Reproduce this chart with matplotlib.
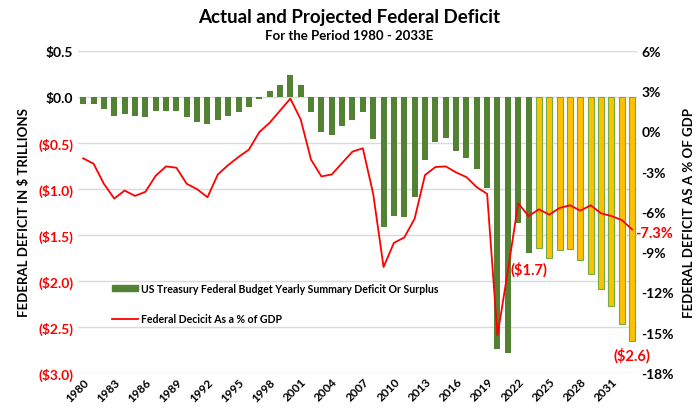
import numpy as np
import matplotlib.pyplot as plt
from matplotlib.patches import Patch
from matplotlib.lines import Line2D

plt.rcParams['font.family'] = ['Lato', 'DejaVu Sans']
plt.rcParams['font.weight'] = 'bold'
plt.rcParams['axes.labelweight'] = 'bold'

years = list(range(1980, 2034))
# deficit in $ trillions (actual through 2023, projected 2024-2033)
deficit = [-0.074, -0.079, -0.128, -0.208, -0.185, -0.212, -0.221, -0.150, -0.155, -0.153,
           -0.221, -0.269, -0.290, -0.255, -0.203, -0.164, -0.107, -0.022, 0.069, 0.126,
           0.236, 0.128, -0.158, -0.378, -0.413, -0.318, -0.248, -0.161, -0.459, -1.413,
           -1.294, -1.300, -1.087, -0.680, -0.485, -0.442, -0.585, -0.665, -0.779, -0.984,
           -2.74, -2.78, -1.375, -1.70,
           -1.64, -1.75, -1.66, -1.65, -1.77, -1.92, -2.09, -2.27, -2.47, -2.65]
pct_gdp = [-2.0, -2.4, -3.9, -5.0, -4.4, -4.8, -4.5, -3.3, -2.6, -2.7,
           -3.9, -4.3, -4.9, -3.2, -2.5, -1.9, -1.35, -0.05, 0.65, 1.55,
           2.45, 0.9, -2.1, -3.35, -3.2, -2.35, -1.5, -1.25, -4.65, -10.1,
           -8.3, -7.9, -6.5, -3.25, -2.65, -2.6, -3.05, -3.4, -4.15, -4.65,
           -15.2, -10.4, -5.35, -6.3,
           -5.8, -6.2, -5.7, -5.5, -5.9, -5.5, -6.1, -6.3, -6.6, -7.3]
n_actual = 44  # 1980-2023

x = np.arange(len(years))
green = '#548235'
yellow = '#FFC000'
red = '#FF0000'

fig = plt.figure(figsize=(6.99, 4.10), dpi=100)
ax = fig.add_axes([0.1116, 0.0878, 0.7994, 0.7854])
ax2 = ax.twinx()

ax.bar(x[:n_actual], deficit[:n_actual], width=0.58, color=green, zorder=3)
ax.bar(x[n_actual:], deficit[n_actual:], width=0.58, color=yellow,
       edgecolor='#70AD47', linewidth=0.8, zorder=3)
ax2.plot(x, pct_gdp, color=red, linewidth=1.3, zorder=4)

ax.set_xlim(-0.5, 53.45)
ax.set_ylim(-3.0, 0.5)
ax2.set_ylim(-18, 6)

lticks = [0.5, 0.0, -0.5, -1.0, -1.5, -2.0, -2.5, -3.0]
ax.set_yticks(lticks)
ax.set_yticklabels(['$0.5', '$0.0'] + ['($%.1f)' % -v for v in lticks[2:]], fontsize=10)
for lab, v in zip(ax.get_yticklabels(), lticks):
    lab.set_color('black' if v >= 0 else red)
ax2.set_yticks(range(6, -19, -3))
ax2.set_yticklabels(['%d%%' % v for v in range(6, -19, -3)], fontsize=10)

xt = list(range(0, 54, 3))
ax.set_xticks(xt)
ax.set_xticklabels([str(years[i]) for i in xt], rotation=45, ha='right',
                   rotation_mode='anchor', fontsize=8.5)

ax.grid(axis='y', color='#d9d9d9', linewidth=1, zorder=0)
for a in (ax, ax2):
    for s in a.spines.values():
        s.set_visible(False)
    a.tick_params(length=0)
ax.tick_params(axis='x', pad=2)

ax.set_ylabel('FEDERAL DEFICIT IN $ TRILLIONS', fontsize=9.5, labelpad=6)
ax2.set_ylabel('FEDERAL DEFICIT AS A % OF GDP', fontsize=9.5, labelpad=6)

fig.text(0.5, 0.957, 'Actual and Projected Federal Deficit', ha='center', va='center', fontsize=13.5)
fig.text(0.5, 0.912, 'For the Period 1980 - 2033E', ha='center', va='center', fontsize=9.5)

ax.text(43, -1.87, '($1.7)', color=red, ha='center', va='center', fontsize=10.5)
ax.text(53, -2.80, '($2.6)', color=red, ha='center', va='center', fontsize=10.5)
ax2.text(53.3, -7.6, '-7.3%', color=red, ha='left', va='center', fontsize=10.5, clip_on=False)

handles = [Patch(color=green), Line2D([0], [0], color=red, linewidth=1.3)]
labels = ['US Treasury Federal Budget Yearly Summary Deficit Or Surplus', 'Federal Decicit As a % of GDP']
leg = ax.legend(handles, labels, loc='upper left', bbox_to_anchor=(0.147, 0.33),
                bbox_transform=fig.transFigure, frameon=False, fontsize=7.6,
                labelspacing=1.8, handlelength=2.4, handleheight=0.5, handletextpad=0.3)

fig.savefig('out.png', dpi=100)
